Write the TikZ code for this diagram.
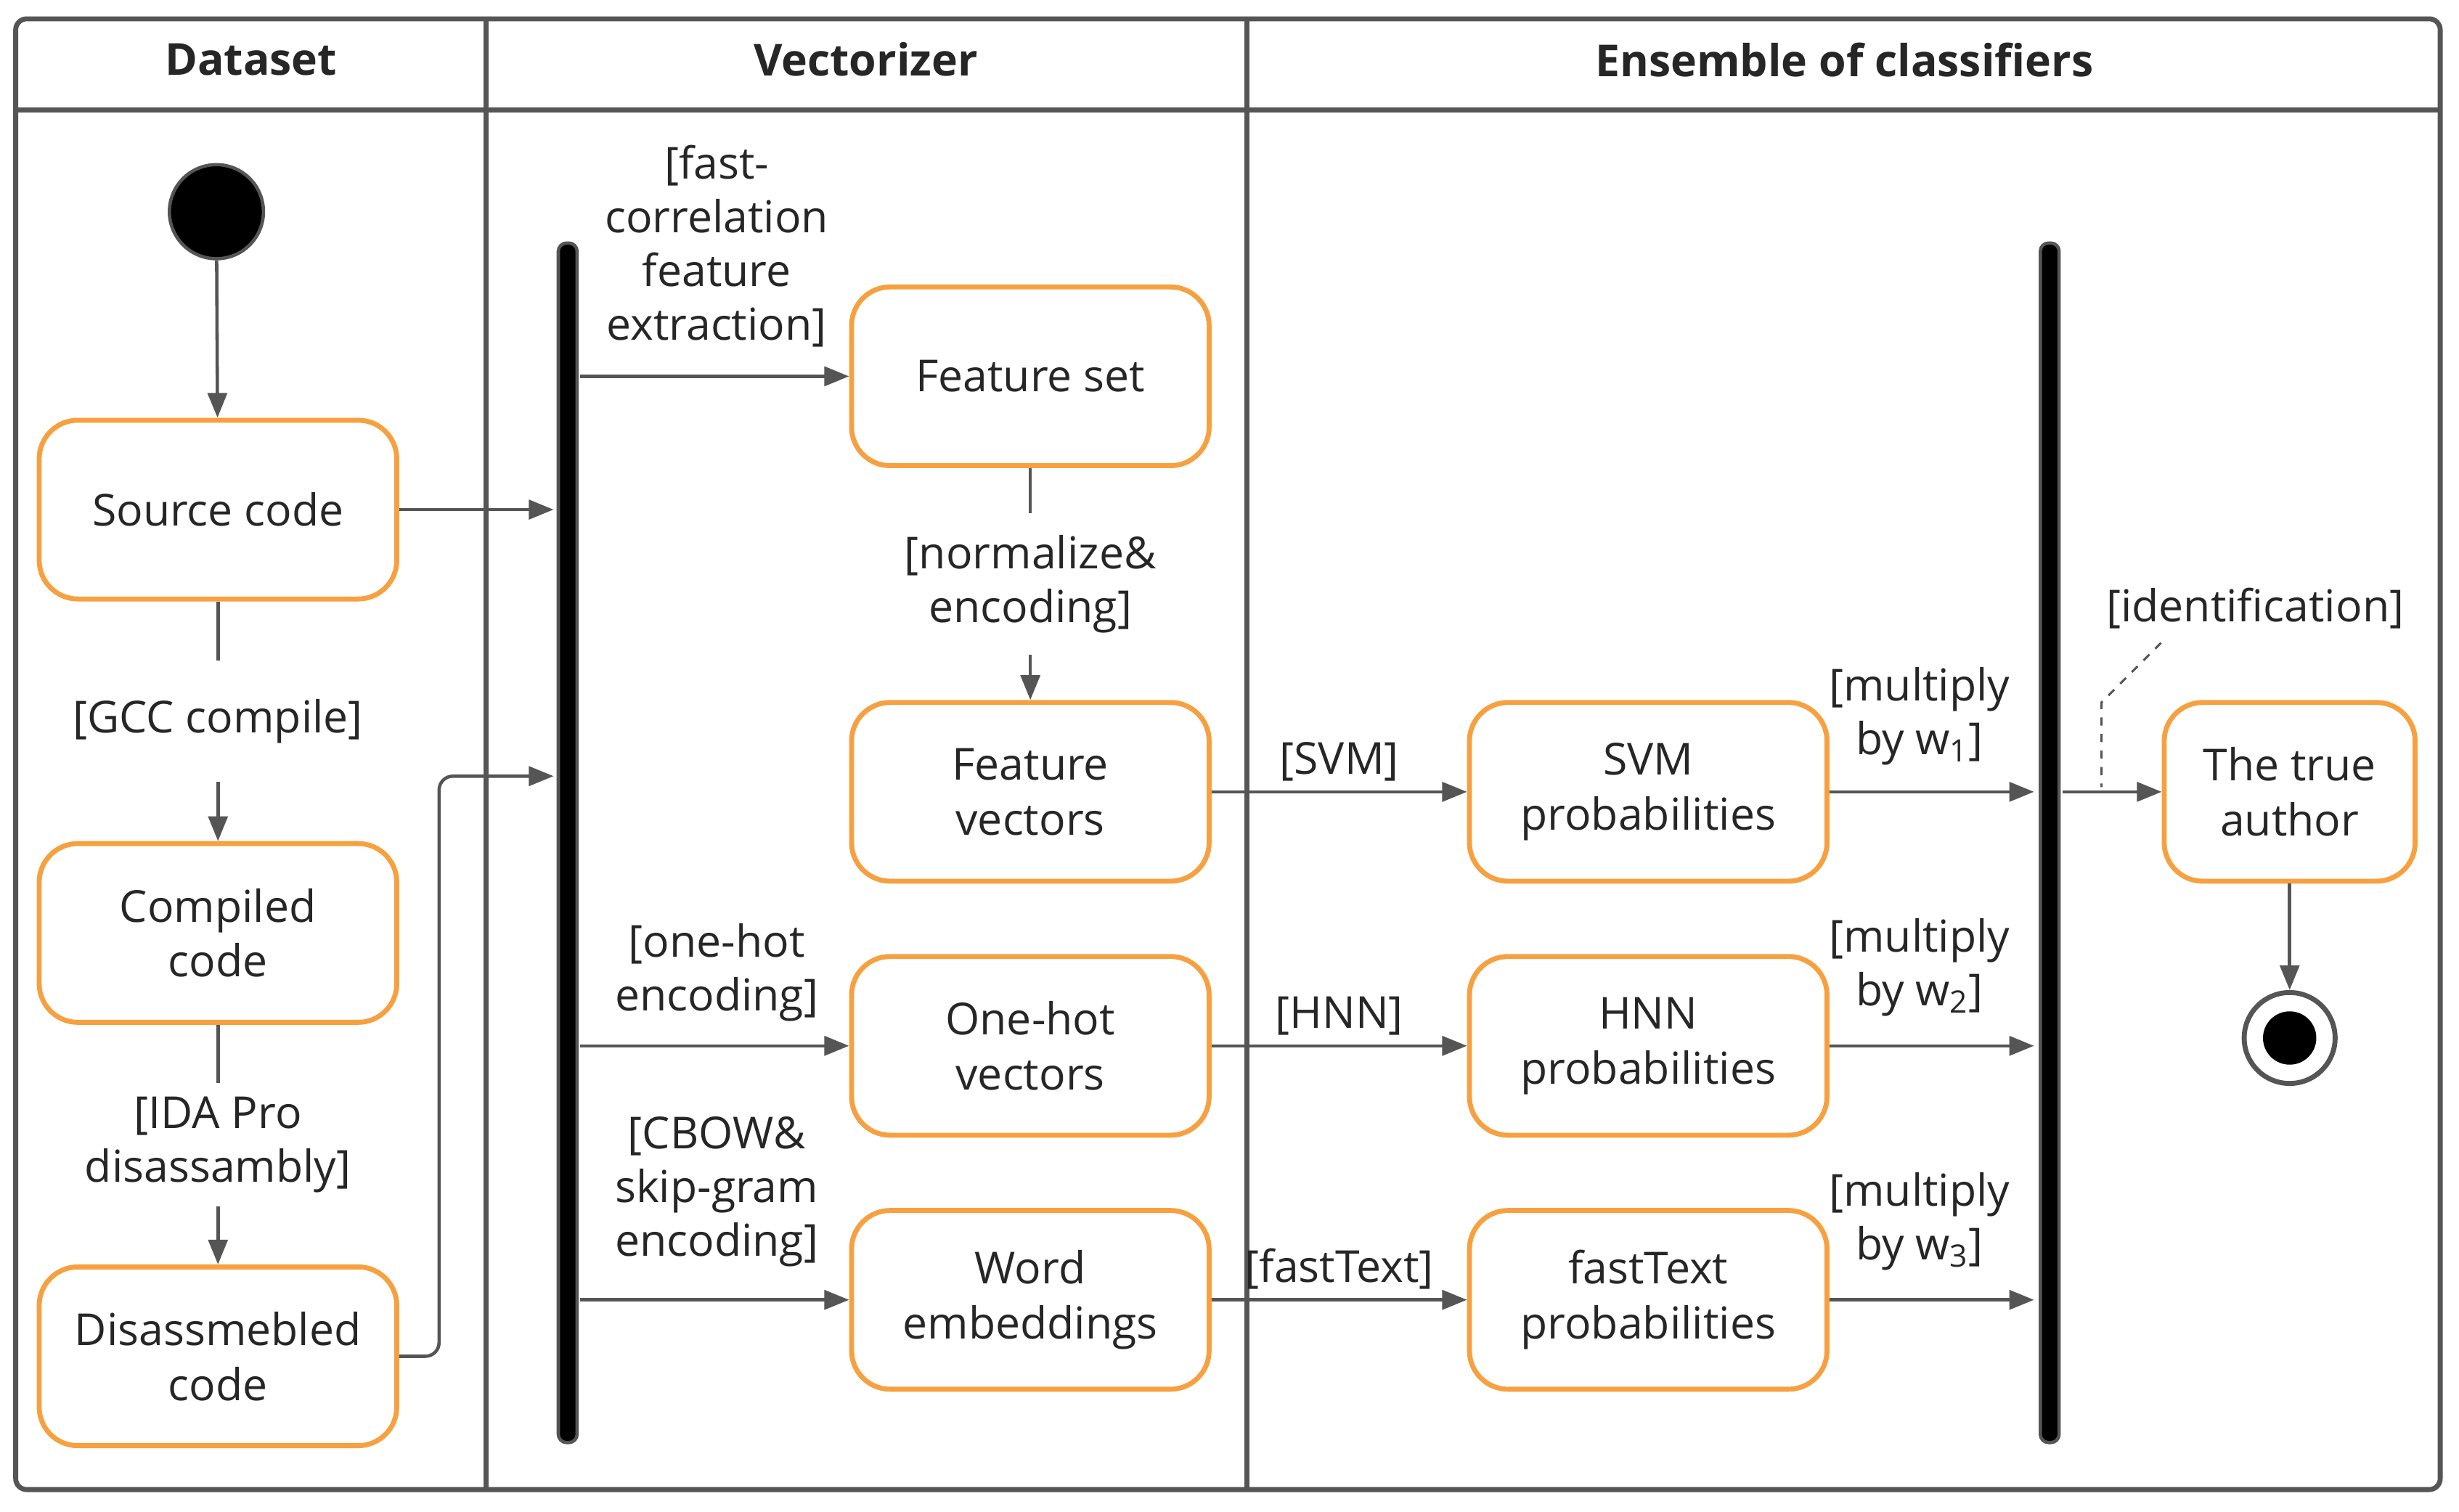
\documentclass[tikz,border=0pt]{standalone}
\usepackage{fontspec}
\setmainfont{Open Sans}
\usetikzlibrary{arrows.meta}
\definecolor{ln}{HTML}{555555}
\definecolor{og}{HTML}{F7A040}
\begin{document}
\begin{tikzpicture}[x=0.02cm,y=-0.02cm,
 box/.style={draw=og,line width=1.8pt,rounded corners=14pt,minimum width=228*0.02cm,minimum height=114*0.02cm,align=center,font=\fontsize{16}{20}\selectfont,text=black!85},
 arr/.style={draw=ln,line width=1.2pt,-{Triangle[length=9pt,width=7pt]}},
 lab/.style={font=\fontsize{16}{19.5}\selectfont,align=center,text=black!85},
 bar/.style={draw=ln,fill=black,line width=1.2pt,rounded corners=3pt},
 hd/.style={font=\bfseries\fontsize{16}{20}\selectfont,text=black!85}]
\useasboundingbox (0,0) rectangle (1568,964);
\draw[ln,line width=1.8pt,rounded corners=4pt] (10,12) rectangle (1556,950);
\draw[ln,line width=1.8pt] (10,70) -- (1556,70) (310,12) -- (310,950) (795,12) -- (795,950);
\node[hd] at (160,38) {Dataset};
\node[hd] at (552,38) {Vectorizer};
\node[hd] at (1176,38) {Ensemble of classifiers};
\node[circle,fill=black,draw=ln,line width=1.2pt,minimum size=60*0.02cm,inner sep=0] (st) at (138,135) {};
\node[box] (src) at (139,325) {Source code};
\node[box] (cmp) at (139,595) {Compiled\\code};
\node[box] (dis) at (139,865) {Disassmebled\\code};
\draw[bar] (356,155) rectangle (368,920);
\coordinate (b1) at (362,500);
\draw[bar] (1301,155) rectangle (1313,920);
\node[box] (fs) at (657,240) {Feature set};
\node[box] (fv) at (657,505) {Feature\\vectors};
\node[box] (oh) at (657,667) {One-hot\\vectors};
\node[box] (we) at (657,829) {Word\\embeddings};
\node[box] (svm) at (1051,505) {SVM\\probabilities};
\node[box] (hnn) at (1051,667) {HNN\\probabilities};
\node[box] (ft) at (1051,829) {fastText\\probabilities};
\node[box,minimum width=160*0.02cm] (ta) at (1460,505) {The true\\author};
\node[circle,draw=ln,line width=1.8pt,fill=white,minimum size=58*0.02cm,inner sep=0] (en) at (1460,662) {};
\node[circle,fill=black,minimum size=34*0.02cm,inner sep=0] at (en) {};
\draw[arr] (st) -- (src);
\draw[arr] (src.east) -- (353,325);
\draw[arr] (src) -- node[lab,fill=white,inner ysep=14pt]{[GCC compile]} (cmp);
\draw[arr] (cmp) -- node[lab,fill=white,inner ysep=5pt]{[IDA Pro\\disassambly]} (dis);
\draw[arr,rounded corners=5pt] (dis.east) -- (280,865) -- (280,495) -- (353,495);
\draw[arr] (370,240) -- (fs.west);
\node[lab] at (457,157) {[fast-\\correlation\\feature\\extraction]};
\draw[arr] (fs) -- node[lab,fill=white,inner ysep=8pt]{[normalize\&\\encoding]} (fv);
\draw[arr] (370,667) -- (oh.west);
\node[lab] at (457,620) {[one-hot\\encoding]};
\draw[arr] (370,829) -- (we.west);
\node[lab] at (457,760) {[CBOW\&\\skip-gram\\encoding]};
\draw[arr] (fv) -- node[lab,above]{[SVM]} (svm);
\draw[arr] (oh) -- node[lab,above]{[HNN]} (hnn);
\draw[arr] (we) -- node[lab,above]{[fastText]} (ft);
\draw[arr] (svm) -- (1297,505);
\draw[arr] (hnn) -- (1297,667);
\draw[arr] (ft) -- (1297,829);
\node[lab] at (1224,457) {[multiply\\by w\textsubscript{1}]};
\node[lab] at (1224,617) {[multiply\\by w\textsubscript{2}]};
\node[lab] at (1224,779) {[multiply\\by w\textsubscript{3}]};
\draw[arr] (1315,505) -- (ta.west);
\node[lab] (id) at (1438,388) {[identification]};
\draw[ln,dashed,line width=0.8pt] (1378,410) -- (1340,448) -- (1340,502);
\draw[arr] (ta) -- (en);
\end{tikzpicture}
\end{document}
